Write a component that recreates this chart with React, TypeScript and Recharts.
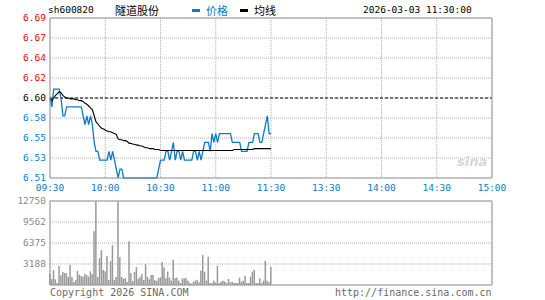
import {
  ComposedChart,
  Line,
  Bar,
  XAxis,
  YAxis,
  CartesianGrid,
  ReferenceLine,
} from "recharts";

const stockCode = "sh600820";
const stockName = "隧道股份";
const stamp = "2026-03-03 11:30:00";

const timeTicks = [0, 30, 60, 90, 120, 150, 180, 210, 240];
const timeLabels = ["09:30", "10:00", "10:30", "11:00", "11:30", "13:30", "14:00", "14:30", "15:00"];

const priceTicks = [6.51, 6.5325, 6.555, 6.5775, 6.6, 6.6225, 6.645, 6.6675, 6.69];
const priceTickLabels = ["6.51", "6.53", "6.55", "6.58", "6.60", "6.62", "6.64", "6.67", "6.69"];
const pctTickLabels = ["-1.36%", "-1.02%", "-0.68%", "-0.34%", "0.00%", "+0.34%", "+0.68%", "+1.02%", "+1.36%"];

const volumeTicks = [0, 3188, 6375, 9562, 12750];
const volumeTickLabels = ["", "3188", "6375", "9562", "12750"];

// one value per minute, 09:30 .. 11:30
const prices = [
  6.6, 6.59, 6.61, 6.61, 6.61, 6.61, 6.6, 6.58, 6.58, 6.59,
  6.59, 6.59, 6.59, 6.59, 6.59, 6.59, 6.59, 6.59, 6.58, 6.57,
  6.58, 6.57, 6.58, 6.57, 6.55, 6.54, 6.54, 6.53, 6.53, 6.53,
  6.53, 6.53, 6.54, 6.53, 6.54, 6.53, 6.52, 6.51, 6.52, 6.52,
  6.51, 6.51, 6.51, 6.51, 6.51, 6.51, 6.51, 6.51, 6.51, 6.51,
  6.51, 6.51, 6.51, 6.51, 6.51, 6.51, 6.51, 6.51, 6.51, 6.52,
  6.53, 6.53, 6.53, 6.54, 6.54, 6.53, 6.54, 6.55, 6.53, 6.54,
  6.54, 6.53, 6.54, 6.53, 6.53, 6.53, 6.53, 6.53, 6.54, 6.54,
  6.53, 6.54, 6.53, 6.54, 6.55, 6.55, 6.55, 6.54, 6.56, 6.55,
  6.56, 6.55, 6.56, 6.56, 6.56, 6.56, 6.56, 6.56, 6.56, 6.55,
  6.55, 6.55, 6.55, 6.55, 6.54, 6.54, 6.54, 6.54, 6.55, 6.55,
  6.55, 6.56, 6.56, 6.56, 6.55, 6.55, 6.56, 6.57, 6.58, 6.56,
  6.56,
];

const averages = [
  6.6, 6.597, 6.6, 6.603, 6.605, 6.607, 6.606, 6.603, 6.601, 6.6,
  6.6, 6.599, 6.599, 6.599, 6.598, 6.598, 6.597, 6.597, 6.596, 6.594,
  6.593, 6.591, 6.589, 6.587, 6.58, 6.573, 6.571, 6.568, 6.566, 6.565,
  6.564, 6.563, 6.562, 6.562, 6.561, 6.56, 6.559, 6.554, 6.553, 6.553,
  6.552, 6.552, 6.551, 6.549, 6.549, 6.548, 6.548, 6.547, 6.547, 6.546,
  6.546, 6.545, 6.544, 6.544, 6.543, 6.543, 6.543, 6.542, 6.542, 6.542,
  6.541, 6.541, 6.541, 6.541, 6.541, 6.541, 6.541, 6.541, 6.541, 6.541,
  6.541, 6.541, 6.541, 6.541, 6.541, 6.541, 6.541, 6.541, 6.541, 6.541,
  6.541, 6.541, 6.541, 6.541, 6.541, 6.541, 6.541, 6.541, 6.541, 6.541,
  6.541, 6.541, 6.541, 6.541, 6.541, 6.541, 6.541, 6.541, 6.541, 6.541,
  6.542, 6.542, 6.542, 6.542, 6.542, 6.542, 6.542, 6.542, 6.542, 6.542,
  6.542, 6.543, 6.543, 6.543, 6.543, 6.543, 6.543, 6.543, 6.543, 6.543,
  6.543,
];

const volumes = [
  1770, 900, 2270, 860, 300, 2870, 1470, 1970, 1810, 1810,
  1210, 3020, 1210, 450, 760, 2120, 1560, 1360, 1260, 1660,
  1510, 1260, 2070, 1660, 8165, 12750, 1210, 4080, 5290, 2270,
  2070, 4385, 760, 3630, 6050, 760, 1210, 12750, 4230, 1210,
  950, 1060, 450, 6650, 1810, 600, 1970, 2720, 950, 1260,
  1660, 760, 3130, 1210, 860, 1510, 1510, 760, 600, 1060,
  1160, 3480, 2670, 1010, 2020, 1110, 655, 3830, 1010, 1110,
  655, 300, 1010, 1010, 1010, 655, 300, 200, 500, 655,
  800, 400, 2170, 4540, 2020, 655, 4280, 300, 300, 655,
  400, 2920, 300, 500, 655, 550, 300, 900, 400, 500,
  300, 300, 300, 1110, 500, 655, 1410, 300, 300, 1260,
  2020, 2320, 300, 300, 1010, 300, 655, 3680, 655, 400,
  2770,
];

const data = prices.map((price, i) => ({
  i,
  price,
  avg: averages[i],
  vol: volumes[i],
}));

const RED = "#f00000";
const BLUE = "#0a7cc8";
const GRID = "#b0b0b0";
const FRAME = "#9a9a9a";
const MONO = "'DejaVu Sans Mono', monospace";

const tickColor = (idx: number) => (idx > 4 ? RED : idx === 4 ? "#000" : BLUE);

const PriceTick = ({ x, y, payload }: any) => {
  const idx = priceTicks.indexOf(payload.value);
  return (
    <text x={x} y={y} dy="0.36em" textAnchor="end" fill={tickColor(idx)} fontSize={9.5} fontFamily={MONO}>
      {priceTickLabels[idx]}
    </text>
  );
};

const PctTick = ({ x, y, payload }: any) => {
  const idx = priceTicks.indexOf(payload.value);
  return (
    <text x={idx === 4 ? x + 6 : x} y={y} dy="0.36em" textAnchor="start" fill={tickColor(idx)} fontSize={9.5} fontFamily={MONO}>
      {pctTickLabels[idx]}
    </text>
  );
};

const TimeTick = ({ x, y, payload }: any) => {
  const idx = timeTicks.indexOf(payload.value);
  return (
    <text x={x} y={y} dy="0.71em" textAnchor="middle" fill={BLUE} fontSize={9.5} fontFamily={MONO}>
      {timeLabels[idx]}
    </text>
  );
};

const VolTick = ({ x, y, payload }: any) => {
  const idx = volumeTicks.indexOf(payload.value);
  return (
    <text x={x} y={y} dy="0.36em" textAnchor="end" fill="#8a8a8a" fontSize={9.5} fontFamily={MONO}>
      {volumeTickLabels[idx]}
    </text>
  );
};

const label = (left: number, top: number, extra: any = {}) => ({
  position: "absolute" as const,
  left,
  top,
  fontFamily: MONO,
  fontSize: 9.5,
  lineHeight: "12px",
  whiteSpace: "nowrap" as const,
  ...extra,
});

export default function App() {
  return (
    <div style={{ position: "absolute", left: 0, top: 0, width: 545, height: 300, background: "#fff", overflow: "hidden" }}>
      <div style={{ position: "absolute", left: 0, top: 0 }}>
        <ComposedChart width={545} height={200} data={data} margin={{ top: 18, right: 0, bottom: 0, left: 0 }}>
          <CartesianGrid yAxisId="price" stroke={GRID} strokeDasharray="1 1" />
          <XAxis
            dataKey="i"
            type="number"
            domain={[0, 240]}
            ticks={timeTicks}
            height={22}
            axisLine={{ stroke: FRAME }}
            tickLine={false}
            tickSize={0}
            tickMargin={6}
            tick={<TimeTick />}
            interval={0}
          />
          <YAxis
            yAxisId="price"
            domain={[6.51, 6.69]}
            ticks={priceTicks}
            width={50}
            axisLine={{ stroke: FRAME }}
            tickLine={false}
            tickSize={0}
            tickMargin={4}
            tick={<PriceTick />}
            interval={0}
          />
          <YAxis
            yAxisId="pct"
            orientation="right"
            domain={[6.51, 6.69]}
            ticks={priceTicks}
            width={53}
            axisLine={{ stroke: FRAME }}
            tickLine={false}
            tickSize={0}
            tickMargin={2}
            tick={<PctTick />}
            interval={0}
          />
          <ReferenceLine yAxisId="price" y={6.69} stroke={FRAME} />
          <ReferenceLine yAxisId="price" y={6.6} stroke="#000" strokeDasharray="3 2" />
          <Line
            yAxisId="price"
            dataKey="price"
            stroke={BLUE}
            strokeWidth={1.3}
            dot={false}
            isAnimationActive={false}
          />
          <Line
            yAxisId="price"
            dataKey="avg"
            stroke="#000"
            strokeWidth={1.1}
            dot={false}
            isAnimationActive={false}
          />
        </ComposedChart>
      </div>

      <div style={{ position: "absolute", left: 0, top: 190 }}>
        <ComposedChart width={545} height={110} data={data} margin={{ top: 11, right: 53, bottom: 0, left: 0 }}>
          <CartesianGrid stroke={GRID} strokeDasharray="1 1" />
          <XAxis
            dataKey="i"
            type="number"
            domain={[0, 240]}
            ticks={timeTicks}
            height={15}
            axisLine={{ stroke: FRAME }}
            tickLine={false}
            tick={false}
          />
          <YAxis
            domain={[0, 12750]}
            ticks={volumeTicks}
            width={50}
            axisLine={{ stroke: FRAME }}
            tickLine={false}
            tickSize={0}
            tickMargin={4}
            tick={<VolTick />}
            interval={0}
          />
          <ReferenceLine y={12750} stroke={FRAME} />
          <ReferenceLine x={240} stroke={FRAME} />
          <Bar dataKey="vol" fill="#999" barSize={1.5} isAnimationActive={false} />
        </ComposedChart>
      </div>

      <div style={label(48, 4, { color: "#000" })}>{stockCode}</div>
      <div style={label(115, 3, { color: "#000", fontFamily: "'Noto Sans CJK SC', sans-serif", fontSize: 11, lineHeight: "14px" })}>
        {stockName}
      </div>
      <div style={{ position: "absolute", left: 192, top: 9, width: 8, height: 3, background: BLUE }} />
      <div style={label(206, 3, { color: BLUE, fontFamily: "'Noto Sans CJK SC', sans-serif", fontSize: 11, lineHeight: "14px" })}>
        价格
      </div>
      <div style={{ position: "absolute", left: 240, top: 9, width: 8, height: 3, background: "#000" }} />
      <div style={label(254, 3, { color: "#000", fontFamily: "'Noto Sans CJK SC', sans-serif", fontSize: 11, lineHeight: "14px" })}>
        均线
      </div>
      <div style={label(363, 4, { color: "#000" })}>{stamp}</div>

      <div style={label(457, 156, { color: "#d6d6d6", fontFamily: "'DejaVu Sans', sans-serif", fontSize: 13, fontStyle: "italic", fontWeight: "bold" })}>
        sina
      </div>

      <div style={label(50, 287, { color: "#6a6a6a", fontSize: 10 })}>Copyright 2026 SINA.COM</div>
      <div style={label(335, 287, { color: "#6a6a6a", fontSize: 10 })}>http://finance.sina.com.cn</div>
    </div>
  );
}
